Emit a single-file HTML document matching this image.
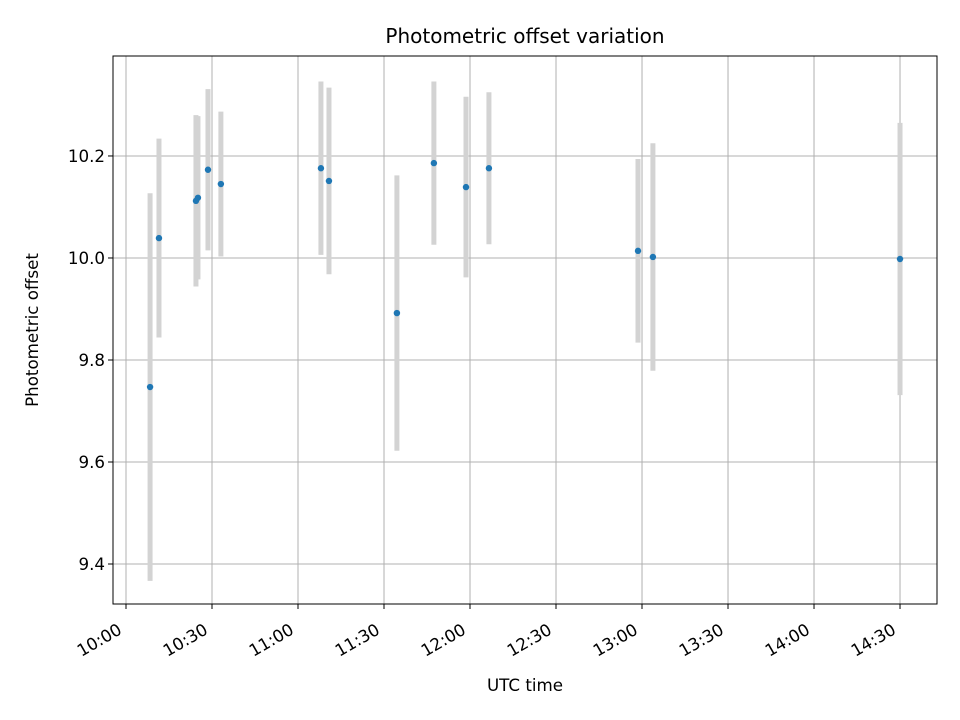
<!DOCTYPE html>
<html><head><meta charset="utf-8"><style>
html,body{margin:0;padding:0;background:#fff;}
svg{display:block;font-family:"DejaVu Sans","Liberation Sans",sans-serif;}
</style></head><body>
<svg id="chart" width="960" height="720" viewBox="0 0 960 720">
<rect x="0" y="0" width="960" height="720" fill="#fff"/>
<g id="grid"></g>
<g id="bars"></g>
<g id="pts"></g>
<rect x="113" y="56" width="824" height="548" fill="none" stroke="#000" stroke-width="1"/>
<g id="xt"></g>
<g id="yt"></g>
<text x="525" y="43" text-anchor="middle" font-size="20">Photometric offset variation</text>
<text x="525" y="691" text-anchor="middle" font-size="16.7">UTC time</text>
<text transform="translate(38,330) rotate(-90)" text-anchor="middle" font-size="16.7">Photometric offset</text>
</svg>
<script>
// minutes after 10:00 UTC
const times = [8.4, 11.5, 24.4, 25.1, 28.6, 33.1, 68.0, 70.8, 94.5, 107.4, 118.6, 126.6, 178.6, 183.8, 270.0];
const offsets = [9.747, 10.039, 10.112, 10.118, 10.173, 10.145, 10.176, 10.151, 9.892, 10.186, 10.139, 10.176, 10.014, 10.002, 9.998];
const errors = [0.38, 0.195, 0.168, 0.16, 0.158, 0.142, 0.17, 0.183, 0.27, 0.16, 0.177, 0.149, 0.18, 0.223, 0.267];
const xTickMinutes = [0, 30, 60, 90, 120, 150, 180, 210, 240, 270];
const xTickLabels = ["10:00","10:30","11:00","11:30","12:00","12:30","13:00","13:30","14:00","14:30"];
const yTicks = [9.4, 9.6, 9.8, 10.0, 10.2];

const NS = "http://www.w3.org/2000/svg";
const X0 = 113, X1 = 937, Y0 = 56, Y1 = 604;
const xMin = -4.535, xMax = 282.9, yMin = 9.3216, yMax = 10.396;
const xs = m => X0 + (m - xMin) / (xMax - xMin) * (X1 - X0);
const ys = v => Y1 - (v - yMin) / (yMax - yMin) * (Y1 - Y0);
function mk(tag, attrs, parent) {
  const e = document.createElementNS(NS, tag);
  for (const k in attrs) e.setAttribute(k, attrs[k]);
  document.getElementById(parent).appendChild(e);
  return e;
}
xTickMinutes.forEach((m, i) => {
  const x = xs(m);
  let g = mk("line", {x1:x, x2:x, y1:Y0, y2:Y1, stroke:"#b0b0b0", "stroke-width":1}, "grid");
  
  
  let t = mk("line", {x1:x, x2:x, y1:Y1, y2:Y1+5, stroke:"#000", "stroke-width":1}, "xt");
  
  
  const ax = x - 3, ay = Y1 + 29;
  let l = mk("text", {x:ax, y:ay, "text-anchor":"end", "font-size":16.7, transform:`rotate(-30 ${ax} ${ay})`}, "xt");
  l.textContent = xTickLabels[i];
  
  
});
yTicks.forEach(v => {
  const y = ys(v);
  let g = mk("line", {x1:X0, x2:X1, y1:y, y2:y, stroke:"#b0b0b0", "stroke-width":1}, "grid");
  
  
  let t = mk("line", {x1:X0-5, x2:X0, y1:y, y2:y, stroke:"#000", "stroke-width":1}, "yt");
  
  
  let l = mk("text", {x:X0-8, y:y+6, "text-anchor":"end", "font-size":16.7}, "yt");
  l.textContent = v.toFixed(1);
  
  
});
times.forEach((m, i) => {
  const x = xs(m);
  let b = mk("line", {x1:x, x2:x, y1:ys(offsets[i]+errors[i]), y2:ys(offsets[i]-errors[i]), stroke:"#d3d3d3", "stroke-width":5}, "bars");
  
  
});
times.forEach((m, i) => {
  let p = mk("circle", {cx:xs(m), cy:ys(offsets[i]), r:3.2, fill:"#1f77b4"}, "pts");
  
  
});
</script>
</body></html>
